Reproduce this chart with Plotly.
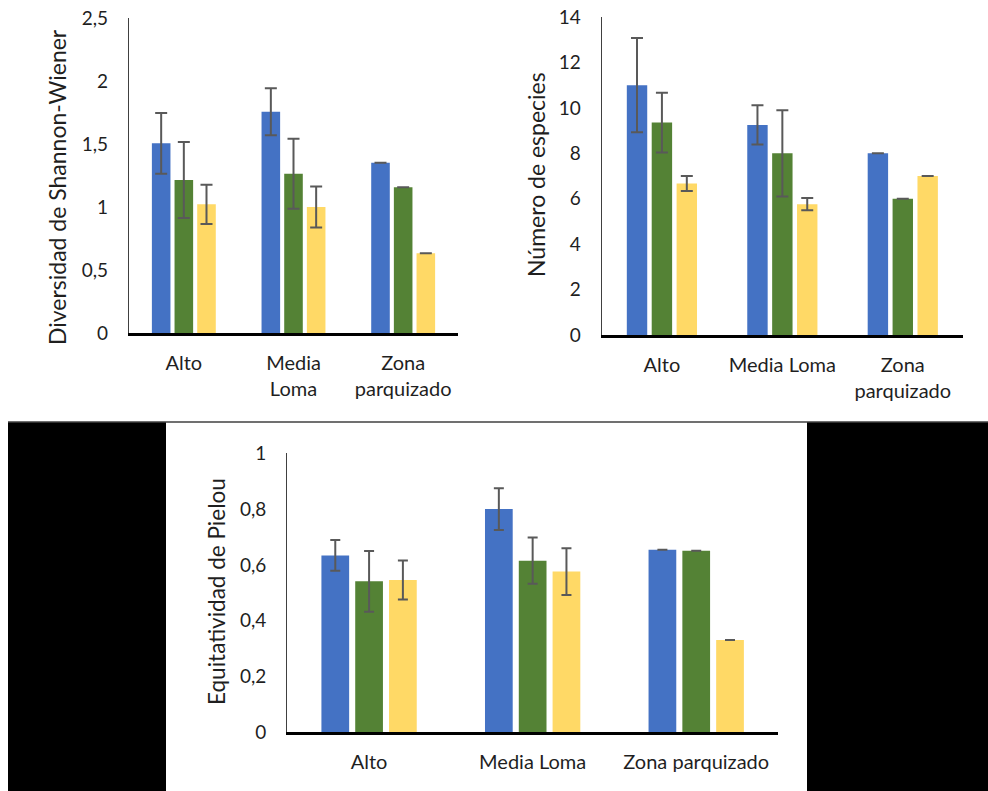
import plotly.graph_objects as go

W, H = 988, 791

categories_top_left = ["Alto", "Media<br>Loma", "Zona<br>parquizado"]
categories_top_right = ["Alto", "Media Loma", "Zona<br>parquizado"]
categories_bottom = ["Alto", "Media Loma", "Zona parquizado"]

series_names = ["Serie 1", "Serie 2", "Serie 3"]
colors = ["#4472C4", "#548235", "#FFD966"]

# Shannon-Wiener diversity
shannon_s1 = [1.505, 1.756, 1.352]
shannon_s2 = [1.214, 1.264, 1.156]
shannon_s3 = [1.021, 1.000, 0.632]
shannon_e1 = [0.242, 0.187, 0.0]
shannon_e2 = [0.302, 0.277, 0.0]
shannon_e3 = [0.155, 0.163, 0.0]

# Number of species
species_s1 = [11.0, 9.25, 8.0]
species_s2 = [9.35, 8.0, 6.0]
species_s3 = [6.67, 5.76, 7.0]
species_e1 = [2.07, 0.86, 0.0]
species_e2 = [1.31, 1.90, 0.0]
species_e3 = [0.33, 0.27, 0.0]

# Pielou evenness
pielou_s1 = [0.634, 0.800, 0.654]
pielou_s2 = [0.541, 0.615, 0.651]
pielou_s3 = [0.546, 0.576, 0.331]
pielou_e1 = [0.055, 0.075, 0.0]
pielou_e2 = [0.109, 0.083, 0.0]
pielou_e3 = [0.070, 0.084, 0.0]

def px(x):
    return x / W

def py(y):
    return 1 - y / H

FONT = "Lato"
TXT = "#1f1f1f"
ERR = "#595959"

fig = go.Figure()

panels = [
    ("x", "y", categories_top_left, [shannon_s1, shannon_s2, shannon_s3],
     [shannon_e1, shannon_e2, shannon_e3], 6),
    ("x2", "y2", categories_top_right, [species_s1, species_s2, species_s3],
     [species_e1, species_e2, species_e3], 6),
    ("x3", "y3", categories_bottom, [pielou_s1, pielou_s2, pielou_s3],
     [pielou_e1, pielou_e2, pielou_e3], 5),
]

for xa, ya, cats, vals, errs, cw in panels:
    for name, color, v, e in zip(series_names, colors, vals, errs):
        fig.add_trace(go.Bar(
            x=cats, y=v, name=name, xaxis=xa, yaxis=ya,
            marker=dict(color=color, line=dict(width=0)),
            error_y=dict(type="data", array=e, visible=True,
                         color=ERR, thickness=2, width=cw),
            showlegend=False,
        ))

xcommon = dict(showline=True, linecolor="#000000", linewidth=2.5,
               ticks="", showgrid=False, zeroline=False, automargin=False,
               tickfont=dict(family=FONT, size=20, color=TXT),
               ticklabelstandoff=10, fixedrange=True)
ycommon = dict(showline=True, linecolor="#404040", linewidth=1.2,
               ticks="", showgrid=False, zeroline=False, automargin=False,
               tickfont=dict(family=FONT, size=19, color=TXT),
               ticklabelstandoff=16, fixedrange=True)

fig.update_layout(
    width=W, height=H,
    margin=dict(l=0, r=0, t=0, b=0, pad=0, autoexpand=False),
    paper_bgcolor="white", plot_bgcolor="white",
    barmode="group", bargap=0.38, bargroupgap=0.18,
    separators=", ",
    xaxis=dict(domain=[px(129), px(458)], anchor="y", **xcommon),
    yaxis=dict(domain=[py(333), py(18)], anchor="x", range=[0, 2.5], dtick=0.5, **ycommon),
    xaxis2=dict(domain=[px(601.7), px(963)], anchor="y2", **xcommon),
    yaxis2=dict(domain=[py(335), py(17)], anchor="x2", range=[0, 14], dtick=2, **ycommon),
    xaxis3=dict(domain=[px(287.3), px(778)], anchor="y3", **xcommon),
    yaxis3=dict(domain=[py(732.3), py(453.3)], anchor="x3", range=[0, 1], dtick=0.2, **ycommon),
)

titles = [
    ("Diversidad de Shannon-Wiener", 57, 187, 23),
    ("Número de especies", 536, 175, 23),
    ("Equitatividad de Pielou", 216, 592, 22.5),
]
for text, x, y, fs in titles:
    fig.add_annotation(text=text, x=px(x), y=py(y), xref="paper", yref="paper",
                       textangle=-90, showarrow=False,
                       font=dict(family=FONT, size=fs, color=TXT),
                       xanchor="center", yanchor="middle")

# black side blocks around the bottom panel and the separating line
fig.add_shape(type="rect", xref="paper", yref="paper",
              x0=px(8), x1=px(166), y0=0, y1=py(422),
              fillcolor="black", line=dict(width=0))
fig.add_shape(type="rect", xref="paper", yref="paper",
              x0=px(807), x1=1, y0=0, y1=py(422),
              fillcolor="black", line=dict(width=0))
fig.add_shape(type="line", xref="paper", yref="paper",
              x0=px(8), x1=1, y0=py(422), y1=py(422),
              line=dict(color="#404040", width=1.5))

fig.write_html("out.html",
               config={"displayModeBar": False},
               post_script="document.body.style.margin='0';document.body.style.overflow='hidden';")
